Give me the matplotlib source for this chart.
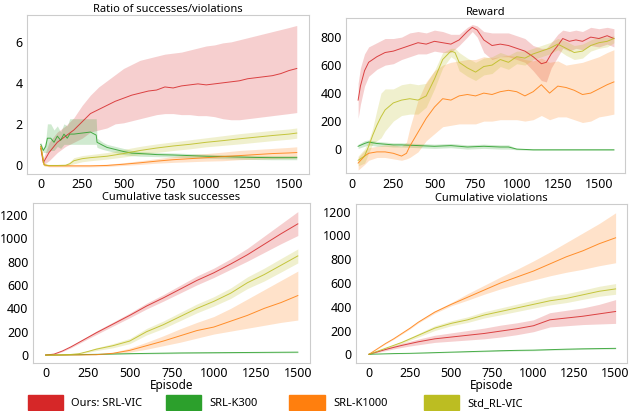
import matplotlib
matplotlib.use("Agg")
import matplotlib.pyplot as plt
from matplotlib.patches import Patch

plt.rcParams['font.family'] = ['Noto Sans', 'DejaVu Sans']
plt.rcParams['font.size'] = 8

names = ['Ours: SRL-VIC', 'SRL-K300', 'SRL-K1000', 'Std_RL-VIC']
colors = ['#d62728', '#2ca02c', '#ff7f0e', '#bcbd22']

# ---- ratio of successes / violations (x, mean, lo, hi) ----
ratio_red_x = [0, 15, 50, 100, 150, 200, 250, 300, 350, 400, 450, 500, 550, 600, 650, 700, 750, 800,
               850, 900, 950, 1000, 1050, 1100, 1150, 1200, 1250, 1300, 1350, 1400, 1450, 1500, 1547]
ratio_red = [0.8, 0.1, 0.6, 1.1, 1.4, 1.7, 2.1, 2.5, 2.7, 2.9, 3.1, 3.25, 3.4, 3.5, 3.6, 3.65, 3.8, 3.75,
             3.85, 3.9, 3.95, 3.9, 3.95, 4.0, 4.05, 4.1, 4.2, 4.25, 4.3, 4.35, 4.45, 4.6, 4.7]
ratio_red_lo = [0.6, 0.0, 0.2, 0.6, 0.9, 1.1, 1.3, 1.6, 1.7, 1.8, 2.0, 2.05, 2.15, 2.25, 2.35, 2.45, 2.5, 2.5,
                2.45, 2.45, 2.4, 2.4, 2.35, 2.25, 2.2, 2.2, 2.25, 2.3, 2.35, 2.4, 2.45, 2.5, 2.55]
ratio_red_hi = [1.0, 0.3, 1.1, 1.6, 1.9, 2.3, 2.9, 3.4, 3.8, 4.1, 4.4, 4.7, 4.9, 5.1, 5.2, 5.3, 5.4, 5.45,
                5.5, 5.6, 5.7, 5.8, 5.85, 5.95, 6.0, 6.1, 6.2, 6.3, 6.4, 6.5, 6.6, 6.7, 6.8]

ratio_green_x = [0, 15, 30, 40, 60, 80, 100, 120, 140, 160, 175, 200, 250, 300, 335, 340, 375, 400, 450,
                 500, 550, 600, 700, 800, 900, 1000, 1100, 1200, 1300, 1400, 1547]
ratio_green = [1.0, 0.7, 0.9, 1.3, 1.3, 1.1, 1.4, 1.2, 1.5, 1.3, 1.5, 1.5, 1.55, 1.6, 1.45, 1.1, 0.95, 0.85,
               0.75, 0.65, 0.57, 0.55, 0.5, 0.48, 0.45, 0.42, 0.4, 0.38, 0.36, 0.35, 0.35]
ratio_green_lo = [0.9, 0.6, 0.6, 0.6, 0.7, 0.7, 0.9, 0.8, 1.0, 1.0, 1.0, 1.0, 1.0, 1.0, 1.0, 0.85, 0.75, 0.7,
                  0.6, 0.5, 0.45, 0.42, 0.4, 0.38, 0.35, 0.32, 0.3, 0.28, 0.26, 0.25, 0.25]
ratio_green_hi = [1.1, 0.8, 1.2, 2.0, 2.0, 1.7, 1.9, 1.6, 2.0, 1.9, 2.25, 2.25, 2.25, 2.25, 2.25, 1.3, 1.1, 1.0,
                  0.9, 0.8, 0.7, 0.65, 0.6, 0.58, 0.55, 0.52, 0.5, 0.48, 0.46, 0.45, 0.45]

ratio_orange_x = [0, 20, 50, 100, 200, 300, 400, 500, 600, 700, 800, 900, 1000, 1100, 1200, 1300, 1400, 1500, 1547]
ratio_orange = [0.9, 0.0, -0.05, -0.05, -0.05, -0.05, -0.03, 0.03, 0.1, 0.18, 0.25, 0.3, 0.35, 0.4, 0.45,
                0.5, 0.55, 0.58, 0.6]
ratio_orange_lo = [0.8, -0.05, -0.1, -0.1, -0.1, -0.1, -0.08, -0.03, 0.02, 0.08, 0.12, 0.15, 0.18, 0.2, 0.25,
                   0.28, 0.3, 0.32, 0.33]
ratio_orange_hi = [1.0, 0.05, 0.0, 0.0, 0.0, 0.0, 0.03, 0.1, 0.2, 0.3, 0.4, 0.5, 0.55, 0.62, 0.7, 0.75, 0.8,
                   0.85, 0.88]

ratio_yellow_x = [0, 20, 50, 100, 150, 175, 200, 250, 300, 400, 500, 600, 700, 800, 900, 1000, 1100, 1200,
                  1300, 1400, 1500, 1547]
ratio_yellow = [0.9, 0.0, -0.03, -0.03, -0.02, 0.05, 0.2, 0.3, 0.35, 0.42, 0.55, 0.7, 0.82, 0.92, 1.0, 1.1,
                1.18, 1.27, 1.35, 1.43, 1.5, 1.55]
ratio_yellow_lo = [0.8, -0.05, -0.06, -0.06, -0.05, -0.02, 0.05, 0.15, 0.2, 0.28, 0.38, 0.5, 0.6, 0.7, 0.78,
                   0.88, 0.95, 1.02, 1.1, 1.18, 1.25, 1.3]
ratio_yellow_hi = [1.0, 0.05, 0.0, 0.0, 0.02, 0.15, 0.35, 0.45, 0.5, 0.6, 0.75, 0.9, 1.02, 1.12, 1.22, 1.32,
                   1.42, 1.52, 1.6, 1.68, 1.75, 1.8]

# ---- reward ----
rew_red_x = [36, 50, 75, 100, 150, 200, 250, 300, 350, 400, 450, 500, 550, 600, 650, 700, 730, 760, 800, 850,
             900, 950, 1000, 1050, 1100, 1150, 1180, 1210, 1250, 1280, 1320, 1360, 1400, 1450, 1500, 1550, 1591]
rew_red = [350, 450, 560, 620, 660, 690, 700, 720, 740, 760, 750, 770, 760, 750, 780, 840, 870, 850, 780, 740,
           750, 740, 720, 700, 660, 610, 620, 680, 740, 790, 770, 780, 770, 800, 790, 810, 790]
rew_red_lo = [220, 320, 450, 520, 570, 600, 610, 640, 660, 680, 680, 700, 690, 690, 740, 800, 840, 800, 690, 640,
              660, 660, 640, 620, 560, 490, 480, 580, 660, 720, 700, 720, 710, 740, 730, 750, 730]
rew_red_hi = [470, 580, 680, 730, 760, 790, 790, 800, 830, 840, 830, 850, 840, 820, 820, 870, 890, 880, 840, 830,
              830, 830, 810, 790, 740, 720, 720, 760, 820, 850, 840, 850, 840, 870, 860, 870, 860]

rew_yellow_x = [36, 75, 100, 125, 150, 175, 200, 250, 300, 350, 400, 450, 500, 550, 600, 625, 650, 700, 750,
                800, 850, 900, 950, 1000, 1050, 1100, 1150, 1200, 1250, 1300, 1350, 1400, 1450, 1500, 1550, 1591]
rew_yellow = [-80, -50, 20, 100, 170, 230, 280, 330, 350, 360, 350, 380, 500, 640, 700, 690, 620, 580, 550,
              590, 600, 640, 620, 660, 650, 680, 700, 720, 750, 720, 690, 700, 740, 760, 770, 790]
rew_yellow_lo = [-120, -100, -30, 40, 60, 80, 130, 200, 240, 250, 250, 300, 430, 580, 660, 640, 560, 520, 490,
                 530, 540, 590, 570, 610, 600, 640, 660, 680, 710, 670, 640, 650, 700, 720, 730, 760]
rew_yellow_hi = [-50, 0, 60, 150, 280, 400, 430, 430, 460, 470, 460, 470, 560, 690, 720, 720, 690, 650, 620,
                 650, 660, 690, 670, 700, 700, 720, 740, 760, 790, 770, 740, 750, 780, 800, 800, 810]

rew_orange_x = [36, 75, 100, 150, 200, 250, 300, 330, 350, 400, 450, 500, 550, 600, 650, 700, 750, 800, 850,
                900, 950, 1000, 1050, 1100, 1150, 1200, 1250, 1300, 1350, 1400, 1450, 1500, 1550, 1591]
rew_orange = [-100, -50, -30, -20, -20, -30, -50, -30, 20, 120, 220, 300, 360, 350, 380, 390, 380, 400, 390,
              410, 420, 410, 380, 410, 460, 400, 450, 440, 420, 390, 400, 430, 460, 480]
rew_orange_lo = [-150, -110, -80, -60, -60, -70, -80, -70, -60, -20, 60, 110, 160, 170, 180, 180, 180, 200, 200,
                 210, 210, 210, 200, 210, 240, 210, 230, 230, 210, 190, 200, 230, 240, 250]
rew_orange_hi = [-60, -10, 10, 20, 30, 30, 20, 50, 150, 350, 480, 560, 600, 620, 630, 640, 640, 660, 650,
                 660, 670, 660, 640, 630, 650, 620, 630, 600, 610, 620, 640, 660, 690, 710]

rew_green_x = [36, 75, 100, 150, 200, 250, 300, 400, 500, 600, 700, 800, 900, 950, 1000, 1100, 1300, 1591]
rew_green = [20, 40, 50, 40, 35, 30, 30, 25, 20, 25, 15, 20, 15, 15, 0, -5, -5, -5]
rew_green_lo = [5, 20, 30, 20, 20, 15, 15, 10, 5, 10, 0, 5, 0, 0, -5, -10, -10, -10]
rew_green_hi = [35, 60, 65, 55, 50, 45, 45, 40, 35, 40, 30, 35, 30, 30, 5, 0, 0, 0]

# ---- cumulative curves vs episode ----
episodes = [0, 50, 100, 150, 200, 250, 300, 400, 500, 600, 700, 800, 900, 1000, 1100, 1200, 1300, 1400, 1500]

succ_red = [0, 8, 35, 70, 110, 150, 190, 265, 340, 420, 490, 565, 640, 705, 780, 860, 950, 1040, 1125]
succ_red_lo = [0, 6, 30, 62, 100, 138, 175, 248, 320, 395, 462, 532, 602, 665, 735, 805, 880, 955, 1025]
succ_red_hi = [0, 10, 40, 78, 120, 162, 205, 282, 360, 445, 518, 598, 678, 745, 825, 915, 1020, 1125, 1230]

succ_green = [0, 0, 1, 2, 3, 5, 6, 9, 12, 14, 16, 18, 19, 20, 21, 22, 23, 24, 25]
succ_green_lo = [0, 0, 0, 1, 2, 3, 4, 6, 8, 10, 11, 13, 14, 15, 16, 17, 18, 19, 20]
succ_green_hi = [0, 1, 2, 3, 4, 7, 8, 12, 16, 18, 21, 23, 24, 25, 26, 27, 28, 29, 30]

succ_orange = [0, 0, 0, 1, 1, 2, 3, 15, 40, 80, 120, 165, 210, 240, 290, 340, 400, 450, 510]
succ_orange_lo = [0, 0, 0, 0, 0, 1, 2, 10, 25, 50, 80, 110, 145, 180, 205, 230, 255, 280, 300]
succ_orange_hi = [0, 0, 1, 2, 2, 3, 5, 22, 60, 110, 165, 225, 280, 330, 400, 480, 560, 640, 720]

succ_yellow = [0, 0, 2, 5, 12, 30, 50, 80, 120, 200, 260, 330, 400, 460, 530, 620, 690, 770, 850]
succ_yellow_lo = [0, 0, 1, 3, 8, 22, 38, 62, 98, 172, 228, 295, 362, 420, 485, 570, 635, 712, 790]
succ_yellow_hi = [0, 0, 3, 7, 16, 38, 62, 98, 142, 228, 292, 365, 438, 500, 575, 670, 745, 828, 910]

viol_red = [0, 20, 40, 58, 75, 90, 105, 130, 145, 160, 175, 195, 215, 240, 290, 305, 320, 340, 360]
viol_red_lo = [0, 15, 30, 45, 58, 70, 80, 100, 110, 120, 130, 145, 165, 190, 230, 240, 250, 255, 260]
viol_red_hi = [0, 25, 50, 72, 92, 110, 128, 160, 180, 200, 220, 245, 265, 290, 350, 370, 390, 420, 460]

viol_green = [0, 2, 4, 6, 7, 8, 10, 14, 18, 22, 26, 30, 33, 35, 39, 43, 46, 48, 50]
viol_green_lo = [0, 1, 3, 4, 5, 6, 7, 11, 15, 18, 22, 25, 28, 30, 34, 38, 41, 43, 45]
viol_green_hi = [0, 3, 5, 8, 9, 10, 13, 17, 21, 26, 30, 35, 38, 40, 44, 48, 51, 53, 55]

viol_orange = [0, 45, 90, 130, 175, 220, 270, 355, 420, 480, 540, 600, 650, 700, 760, 820, 870, 930, 980]
viol_orange_lo = [0, 43, 87, 126, 170, 214, 264, 345, 408, 455, 505, 550, 590, 625, 660, 690, 715, 745, 770]
viol_orange_hi = [0, 47, 93, 134, 180, 226, 276, 365, 435, 510, 580, 650, 715, 785, 860, 940, 1020, 1100, 1190]

viol_yellow = [0, 25, 50, 75, 100, 130, 160, 220, 260, 290, 330, 360, 390, 420, 450, 470, 500, 530, 550]
viol_yellow_lo = [0, 22, 45, 68, 90, 118, 145, 200, 240, 268, 305, 332, 360, 388, 415, 435, 462, 488, 505]
viol_yellow_hi = [0, 28, 55, 82, 110, 142, 175, 240, 282, 315, 358, 390, 422, 455, 488, 510, 540, 572, 595]


def draw(ax, x, mean, lo, hi, color):
    ax.fill_between(x, lo, hi, color=color, alpha=0.22, linewidth=0)
    ax.plot(x, mean, color=color, linewidth=0.7, alpha=0.85)


def style(ax, title):
    ax.set_title(title, fontsize=8, pad=2)
    for s in ax.spines.values():
        s.set_color('#cccccc')
        s.set_linewidth(0.8)
    ax.tick_params(length=0, labelsize=9, pad=3)
    ax.set_xticks([0, 250, 500, 750, 1000, 1250, 1500])


fig = plt.figure(figsize=(6.29, 4.11), dpi=100)
ax1 = fig.add_axes([0.043, 0.577, 0.448, 0.386])
ax2 = fig.add_axes([0.550, 0.578, 0.443, 0.378])
ax3 = fig.add_axes([0.052, 0.116, 0.441, 0.389])
ax4 = fig.add_axes([0.566, 0.116, 0.431, 0.387])

draw(ax1, ratio_red_x, ratio_red, ratio_red_lo, ratio_red_hi, colors[0])
draw(ax1, ratio_green_x, ratio_green, ratio_green_lo, ratio_green_hi, colors[1])
draw(ax1, ratio_orange_x, ratio_orange, ratio_orange_lo, ratio_orange_hi, colors[2])
draw(ax1, ratio_yellow_x, ratio_yellow, ratio_yellow_lo, ratio_yellow_hi, colors[3])
style(ax1, 'Ratio of successes/violations')
ax1.set_xlim(-83, 1620)
ax1.set_ylim(-0.44, 7.3)
ax1.set_yticks([0, 2, 4, 6])

draw(ax2, rew_red_x, rew_red, rew_red_lo, rew_red_hi, colors[0])
draw(ax2, rew_green_x, rew_green, rew_green_lo, rew_green_hi, colors[1])
draw(ax2, rew_orange_x, rew_orange, rew_orange_lo, rew_orange_hi, colors[2])
draw(ax2, rew_yellow_x, rew_yellow, rew_yellow_lo, rew_yellow_hi, colors[3])
style(ax2, 'Reward')
ax2.set_xlim(-38, 1656)
ax2.set_ylim(-174, 936)
ax2.set_yticks([0, 200, 400, 600, 800])

draw(ax3, episodes, succ_red, succ_red_lo, succ_red_hi, colors[0])
draw(ax3, episodes, succ_green, succ_green_lo, succ_green_hi, colors[1])
draw(ax3, episodes, succ_orange, succ_orange_lo, succ_orange_hi, colors[2])
draw(ax3, episodes, succ_yellow, succ_yellow_lo, succ_yellow_hi, colors[3])
style(ax3, 'Cumulative task successes')
ax3.set_xlim(-77, 1573)
ax3.set_ylim(-71, 1300)
ax3.set_yticks([0, 200, 400, 600, 800, 1000, 1200])
ax3.set_xlabel('Episode', fontsize=8.5, labelpad=-1)

draw(ax4, episodes, viol_red, viol_red_lo, viol_red_hi, colors[0])
draw(ax4, episodes, viol_green, viol_green_lo, viol_green_hi, colors[1])
draw(ax4, episodes, viol_orange, viol_orange_lo, viol_orange_hi, colors[2])
draw(ax4, episodes, viol_yellow, viol_yellow_lo, viol_yellow_hi, colors[3])
style(ax4, 'Cumulative violations')
ax4.set_xlim(-79, 1570)
ax4.set_ylim(-76, 1262)
ax4.set_yticks([0, 200, 400, 600, 800, 1000, 1200])
ax4.set_xlabel('Episode', fontsize=8.5, labelpad=-1)

# one legend entry per slot, spaced as in the original layout
legend_x = [0.042, 0.262, 0.458, 0.672]
for name, c, lx in zip(names, colors, legend_x):
    fig.legend([Patch(facecolor=c, edgecolor=c)], [name], loc='lower left', bbox_to_anchor=(lx, 0.0),
               frameon=False, fontsize=8, handlelength=3.2, handleheight=1.7, handletextpad=0.75,
               borderpad=0.1, borderaxespad=0.0)

fig.savefig('out.png', dpi=100)
